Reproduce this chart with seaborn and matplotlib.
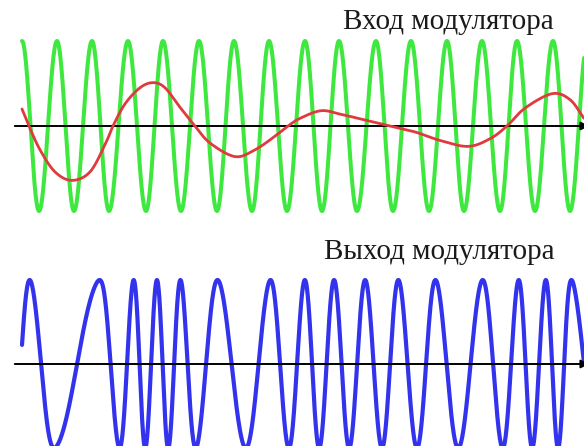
import numpy as np
import pandas as pd
import seaborn as sns
import matplotlib.pyplot as plt

# # # Values (time runs 22..584, amplitude of carrier = 1) # # #

green_peaks = [22, 57, 92, 128, 163, 199, 234, 269, 305, 339, 376, 411, 447, 482, 517, 553]
green_troughs = [39, 74, 109, 146, 181, 217, 252, 287, 322, 357, 393, 429, 464, 500, 535, 570]
green_end_level = 0.8

red_x = [22, 29, 40, 55, 72, 90, 105, 113, 125, 140, 153, 165, 180, 195, 210, 235, 255, 275,
         288, 300, 321, 340, 365, 390, 415, 440, 468, 490, 507, 525, 552, 570, 584]
red_y = [0.20, 0.0, -0.28, -0.54, -0.64, -0.54, -0.22, 0.0, 0.26, 0.45, 0.51, 0.45, 0.22, 0.0,
         -0.20, -0.36, -0.28, -0.12, 0.0, 0.09, 0.18, 0.14, 0.07, 0.0, -0.07, -0.17, -0.24,
         -0.15, 0.0, 0.21, 0.38, 0.31, 0.09]

blue_peaks = [29, 101, 134, 157, 180, 217, 271, 305, 334, 365, 398, 435, 483, 519, 546, 570]
blue_troughs = [53, 120, 145, 168, 195, 246, 289, 319, 349, 382, 417, 458, 503, 532, 558]
blue_start_level = 0.24
blue_end_level = 0.0

label_top = 'Вход модулятора'
label_bottom = 'Выход модулятора'

t_start, t_end = 22, 584


def wave(peaks, troughs, t, start_level=None, end_level=None, smooth=0):
    # phase goes up by pi between neighbouring extrema (first one is a peak)
    ext = sorted([(p, 0) for p in peaks] + [(q, 1) for q in troughs])
    xs = [e[0] for e in ext]
    ph = [np.pi * k for k in range(len(xs))]
    if start_level is not None:
        xs.insert(0, t[0])
        ph.insert(0, -np.arccos(start_level))
    if end_level is not None:
        last_peak = ext[-1][1] == 0
        a = np.arccos(end_level if last_peak else -end_level)
        xs.append(t[-1])
        ph.append(ph[-1] + a)
    phase = np.interp(t, xs, ph)
    if smooth > 0:
        # soften the frequency jumps a bit
        step = t[1] - t[0]
        k = np.arange(-4 * smooth, 4 * smooth + step, step)
        g = np.exp(-0.5 * (k / smooth) ** 2)
        g /= g.sum()
        n = len(g) // 2
        padded = np.pad(phase, n, mode='reflect', reflect_type='odd')
        phase = np.convolve(padded, g, mode='same')[n:-n]
    return np.cos(phase)


def catmull_rom(x, y, n=25):
    x = np.asarray(x, float)
    y = np.asarray(y, float)
    px = np.concatenate([[2 * x[0] - x[1]], x, [2 * x[-1] - x[-2]]])
    py = np.concatenate([[2 * y[0] - y[1]], y, [2 * y[-1] - y[-2]]])
    out_x, out_y = [], []
    s = np.linspace(0, 1, n, endpoint=False)
    for i in range(1, len(px) - 2):
        for arr, out in ((px, out_x), (py, out_y)):
            p0, p1, p2, p3 = arr[i - 1], arr[i], arr[i + 1], arr[i + 2]
            out.extend(0.5 * (2 * p1 + (-p0 + p2) * s + (2 * p0 - 5 * p1 + 4 * p2 - p3) * s ** 2
                              + (-p0 + 3 * p1 - 3 * p2 + p3) * s ** 3))
    out_x.append(x[-1])
    out_y.append(y[-1])
    return np.array(out_x), np.array(out_y)


t = np.linspace(t_start, t_end, 3000)
top_df = pd.DataFrame({'t': t, 'carrier': wave(green_peaks, green_troughs, t, end_level=green_end_level)})
bot_df = pd.DataFrame({'t': t, 'fm': wave(blue_peaks, blue_troughs, t, blue_start_level, blue_end_level, smooth=4)})
rx, ry = catmull_rom(red_x, red_y)
red_df = pd.DataFrame({'t': rx, 'msg': ry})

sns.set_style('white')
plt.rcParams['font.family'] = ['Liberation Serif', 'DejaVu Serif']

fig = plt.figure(figsize=(5.84, 4.46), dpi=100)
ax_top = fig.add_axes([0, 1 - 225 / 446, 1, 225 / 446])
ax_bot = fig.add_axes([0, 0, 1, 221 / 446])

# # # Top: modulator input # # #
sns.lineplot(data=top_df, x='t', y='carrier', ax=ax_top, color='#3fe83f', lw=2.9, zorder=1)
ax_top.annotate('', xy=(592, 0), xytext=(12, 0), annotation_clip=False, zorder=2,
                arrowprops=dict(arrowstyle='-|>', color='black', lw=1.4, mutation_scale=12))
sns.lineplot(data=red_df, x='t', y='msg', ax=ax_top, color='#e03a3f', lw=2.0, zorder=3, sort=False)
ax_top.text(448, 1.14, label_top, ha='center', va='baseline', fontsize=21, color='#1a1a1a')
ax_top.set_xlim(0, 584)
ax_top.set_ylim(-(225 - 126) / 85, 126 / 85)

# # # Bottom: modulator output # # #
sns.lineplot(data=bot_df, x='t', y='fm', ax=ax_bot, color='#3333ee', lw=3.0, zorder=1)
ax_bot.annotate('', xy=(592, 0), xytext=(12, 0), annotation_clip=False, zorder=2,
                arrowprops=dict(arrowstyle='-|>', color='black', lw=1.4, mutation_scale=12))
ax_bot.text(439, 1.25, label_bottom, ha='center', va='baseline', fontsize=21, color='#1a1a1a')
ax_bot.set_xlim(0, 584)
ax_bot.set_ylim(-(446 - 364) / 84, (364 - 225) / 84)

for ax in (ax_top, ax_bot):
    ax.set_axis_off()

fig.savefig('out.png', dpi=100)
